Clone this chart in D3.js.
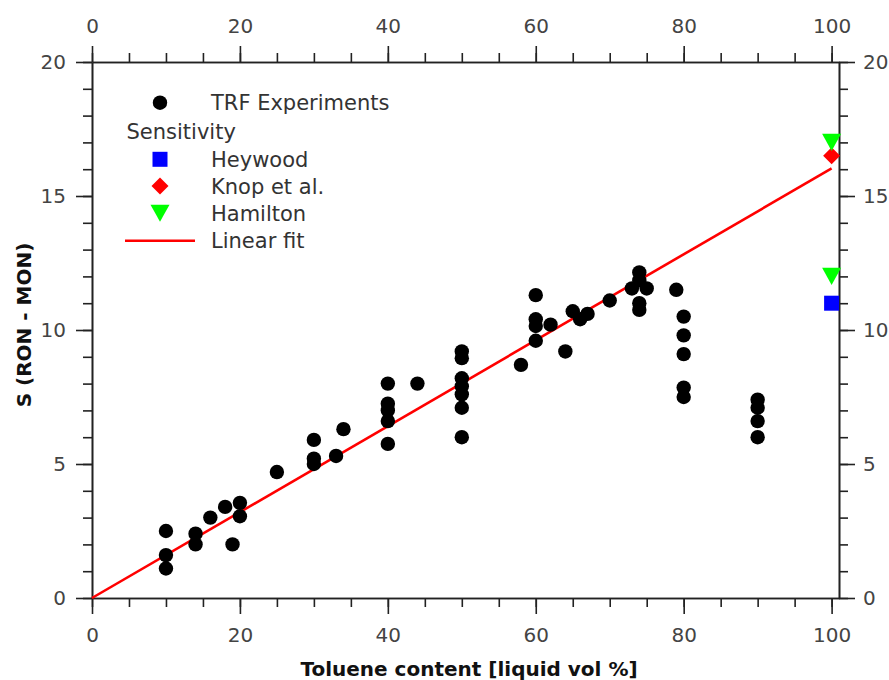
<!DOCTYPE html>
<html>
<head>
<meta charset="utf-8">
<script src="https://cdn.jsdelivr.net/npm/d3@7"></script>
<style>
  html, body { margin: 0; padding: 0; background: #fff; }
  svg { display: block; font-family: "DejaVu Sans", sans-serif; }
</style>
</head>
<body>
<svg id="chart" width="889" height="680"></svg>
<script>
// ---- data ----
const trfX = [10,10,10, 14,14, 16, 18, 19, 20,20, 25, 30,30,30, 33, 34,
              40,40,40,40,40, 44, 50,50,50,50,50,50,50, 58, 60,60,60,60, 62, 64,
              65, 66, 67, 70, 73, 74,74,74,74, 75, 79, 80,80,80,80,80, 90,90,90,90];
const trfY = [2.5,1.6,1.1, 2.4,2.0, 3.0, 3.4, 2.0, 3.55,3.05, 4.7, 5.9,5.2,5.0, 5.3, 6.3,
              8.0,7.25,7.0,6.6,5.75, 8.0, 9.2,8.95,8.2,7.9,7.6,7.1,6.0, 8.7, 11.3,10.4,10.15,9.6, 10.2, 9.2,
              10.7, 10.4, 10.6, 11.1, 11.55, 12.15,11.85,11.0,10.75, 11.55, 11.5, 10.5,9.8,9.1,7.85,7.5, 7.4,7.1,6.6,6.0];
const heywoodX = [100], heywoodY = [11.0];
const knopX = [100], knopY = [16.5];
const hamiltonX = [100, 100], hamiltonY = [17.0, 12.0];
const fitX = [0, 100], fitY = [0, 16.03];
const xMajorTicks = [0, 20, 40, 60, 80, 100];
const yMajorTicks = [0, 5, 10, 15, 20];
const legendLabels = ["TRF Experiments", "Sensitivity", "Heywood", "Knop et al.", "Hamilton", "Linear fit"];
const xTitle = "Toluene content [liquid vol %]";
const yTitle = "S (RON - MON)";

// ---- layout ----
const svg = d3.select("#chart");
const x = d3.scaleLinear().domain([0, 101]).range([92, 839]);
const y = d3.scaleLinear().domain([0, 20]).range([598, 62]);
const axisColor = "#222";
const labelColor = "#444";

const xMinor = d3.range(0, 101, 5);
const yMinor = d3.range(0, 21, 1);

function styleAxis(g) {
  g.selectAll("path.domain").attr("stroke", axisColor).attr("stroke-width", 1.6);
  g.selectAll(".tick line").attr("stroke", axisColor).attr("stroke-width", 1.6);
  g.selectAll(".tick text").attr("fill", labelColor)
    .style("font-family", "'DejaVu Sans', sans-serif").style("font-size", "20px");
}

// minor ticks
svg.append("g").attr("transform", `translate(0,${y(0)})`)
  .call(d3.axisBottom(x).tickValues(xMinor).tickSize(9).tickSizeOuter(0).tickFormat("")).call(styleAxis);
svg.append("g").attr("transform", `translate(0,${y(20)})`)
  .call(d3.axisTop(x).tickValues(xMinor).tickSize(9).tickSizeOuter(0).tickFormat("")).call(styleAxis);
svg.append("g").attr("transform", `translate(${x(0)},0)`)
  .call(d3.axisLeft(y).tickValues(yMinor).tickSize(9).tickSizeOuter(0).tickFormat("")).call(styleAxis);
svg.append("g").attr("transform", `translate(${x(101)},0)`)
  .call(d3.axisRight(y).tickValues(yMinor).tickSize(9).tickSizeOuter(0).tickFormat("")).call(styleAxis);

// major ticks with labels
svg.append("g").attr("transform", `translate(0,${y(0)})`)
  .call(d3.axisBottom(x).tickValues(xMajorTicks).tickSize(16).tickSizeOuter(0).tickPadding(14)).call(styleAxis);
svg.append("g").attr("transform", `translate(0,${y(20)})`)
  .call(d3.axisTop(x).tickValues(xMajorTicks).tickSize(16).tickSizeOuter(0).tickPadding(13)).call(styleAxis);
svg.append("g").attr("transform", `translate(${x(0)},0)`)
  .call(d3.axisLeft(y).tickValues(yMajorTicks).tickSize(16).tickSizeOuter(0).tickPadding(10)).call(styleAxis);
svg.append("g").attr("transform", `translate(${x(101)},0)`)
  .call(d3.axisRight(y).tickValues(yMajorTicks).tickSize(16).tickSizeOuter(0).tickPadding(8)).call(styleAxis);

// axis titles
svg.append("text").attr("x", 469).attr("y", 676).attr("text-anchor", "middle")
  .style("font-weight", "bold").style("font-size", "20px").attr("fill", "#111").text(xTitle);
svg.append("text").attr("transform", `translate(31,${325}) rotate(-90)`).attr("text-anchor", "middle")
  .style("font-weight", "bold").style("font-size", "20px").attr("fill", "#111").text(yTitle);

// linear fit
svg.append("path").datum(fitX.map((d, i) => [d, fitY[i]]))
  .attr("d", d3.line().x(d => x(d[0])).y(d => y(d[1])))
  .attr("stroke", "#ff0000").attr("stroke-width", 2.6).attr("fill", "none");

// TRF points
svg.append("g").selectAll("circle").data(trfX.map((d, i) => [d, trfY[i]])).join("circle")
  .attr("cx", d => x(d[0])).attr("cy", d => y(d[1])).attr("r", 7.2).attr("fill", "#000");

// marker shapes
const downTri = (s) => `M${-s/2},${-s*0.45}L${s/2},${-s*0.45}L0,${s*0.45}Z`;
const diamond = (s) => `M0,${-s/2}L${s/2},0L0,${s/2}L${-s/2},0Z`;

svg.append("g").selectAll("rect").data(heywoodX.map((d, i) => [d, heywoodY[i]])).join("rect")
  .attr("x", d => x(d[0]) - 7.5).attr("y", d => y(d[1]) - 7.5).attr("width", 15).attr("height", 15).attr("fill", "#0000ff");
svg.append("g").selectAll("path").data(knopX.map((d, i) => [d, knopY[i]])).join("path")
  .attr("transform", d => `translate(${x(d[0])},${y(d[1])})`).attr("d", diamond(17)).attr("fill", "#ff0000");
svg.append("g").selectAll("path").data(hamiltonX.map((d, i) => [d, hamiltonY[i]])).join("path")
  .attr("transform", d => `translate(${x(d[0])},${y(d[1])})`).attr("d", downTri(19)).attr("fill", "#00ff00");

// legend
const lg = svg.append("g");
const rowY = [102.7, 131.7, 159.3, 186, 213.3, 240.7];
const symX = 160, textX = 211;
lg.append("circle").attr("cx", symX).attr("cy", rowY[0]).attr("r", 7.2).attr("fill", "#000");
lg.append("rect").attr("x", symX - 7.5).attr("y", rowY[2] - 7.5).attr("width", 15).attr("height", 15).attr("fill", "#0000ff");
lg.append("path").attr("transform", `translate(${symX},${rowY[3]})`).attr("d", diamond(17)).attr("fill", "#ff0000");
lg.append("path").attr("transform", `translate(${symX},${rowY[4]})`).attr("d", downTri(19)).attr("fill", "#00ff00");
lg.append("line").attr("x1", 125).attr("x2", 195).attr("y1", rowY[5]).attr("y2", rowY[5])
  .attr("stroke", "#ff0000").attr("stroke-width", 2.6);
legendLabels.forEach((t, i) => {
  lg.append("text").attr("x", i === 1 ? 126.5 : textX).attr("y", rowY[i]).attr("dy", "0.36em")
    .style("font-size", "21px").attr("fill", "#333").text(t);
});
</script>
</body>
</html>
